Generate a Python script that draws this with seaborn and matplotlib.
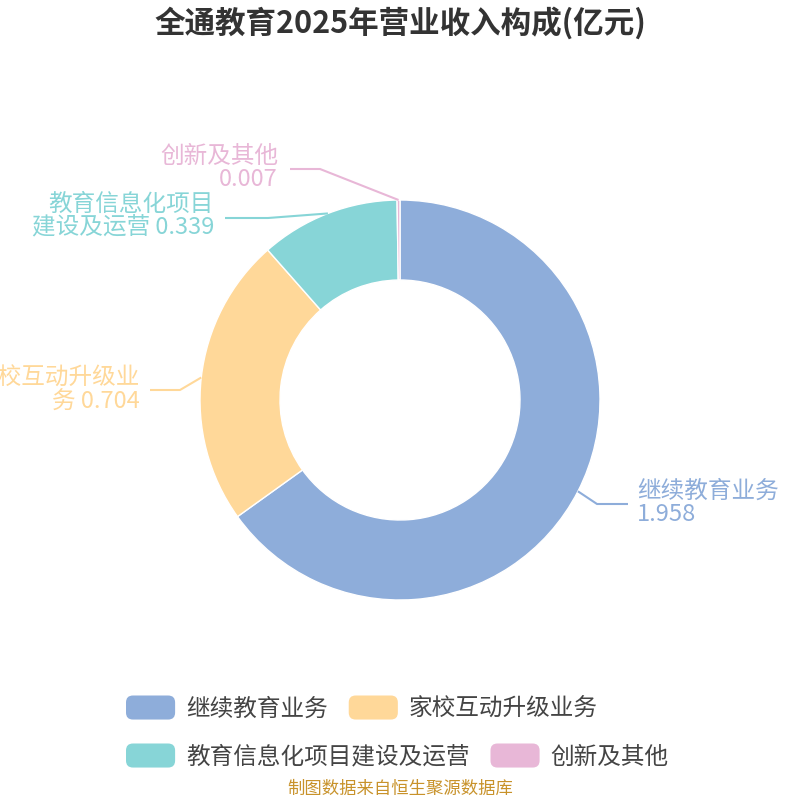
import matplotlib
matplotlib.use("Agg")
import matplotlib.pyplot as plt
import seaborn as sns
import numpy as np
from matplotlib.patches import FancyBboxPatch
from matplotlib.legend_handler import HandlerPatch
import matplotlib.patches as mpatches

sns.set_theme(style="white")
plt.rcParams['font.family'] = ['Noto Sans CJK SC', 'DejaVu Sans']

# ---- data ----
categories = ["继续教育业务", "家校互动升级业务", "教育信息化项目建设及运营", "创新及其他"]
values = [1.958, 0.704, 0.339, 0.007]
value_labels = ["1.958", "0.704", "0.339", "0.007"]
slice_labels = ["继续教育业务\n1.958", "家校互动升级业\n务 0.704", "教育信息化项目\n建设及运营 0.339", "创新及其他\n0.007"]
colors = ["#8EADDA", "#FFD899", "#87D5D7", "#E8B7D7"]
title = "全通教育2025年营业收入构成(亿元)"
source = "制图数据来自恒生聚源数据库"

# ---- layout (pixel coords, y down) ----
elbows = [(597, 504), (180, 390), (268, 218), (320, 169)]
line_ends = [(628, 504), (150, 390), (225, 218), (290, 169)]
text_pos = [(637, 503), (140, 390), (214, 216), (278, 168)]
text_ha = ["left", "right", "right", "right"]

fig = plt.figure(figsize=(8, 8), dpi=100)
ax = fig.add_axes([0, 0, 1, 1])
W = 800
def P(x, y):
    return (x, W - y)

wedges, _ = ax.pie(values, colors=colors, startangle=90, counterclock=False,
                   radius=200, center=(400, 400),
                   wedgeprops=dict(width=80, edgecolor="white", linewidth=1))
ax.set_xlim(0, 800)
ax.set_ylim(0, 800)
ax.set_aspect("equal")
ax.axis("off")

for i, w in enumerate(wedges):
    th = np.deg2rad((w.theta1 + w.theta2) / 2)
    sx, sy = 400 + 200 * np.cos(th), 400 + 200 * np.sin(th)
    ex, ey = P(*elbows[i])
    lx, ly = P(*line_ends[i])
    ax.plot([sx, ex, lx], [sy, ey, ly], color=colors[i], lw=1.5, solid_capstyle="butt")
    tx, ty = P(*text_pos[i])
    ax.text(tx, ty, slice_labels[i], color=colors[i], fontsize=17, ha=text_ha[i],
            va="center", linespacing=1.05)

fig.text(0.5, 1 - 23 / 800, title, ha="center", va="center", fontsize=22,
         fontweight="bold", color="#333333")
fig.text(0.5, 1 - 789 / 800, source, ha="center", va="center", fontsize=12.5,
         color="#C8922A")

class RoundHandler(HandlerPatch):
    def create_artists(self, legend, orig_handle, xdescent, ydescent, width, height, fontsize, trans):
        p = FancyBboxPatch((-xdescent, -ydescent), width, height,
                           boxstyle="round,pad=0,rounding_size=5",
                           facecolor=orig_handle.get_facecolor(), edgecolor="none",
                           transform=trans)
        return [p]

handles = [mpatches.Patch(facecolor=c, label=l) for c, l in zip(colors, categories)]
hm = {h: RoundHandler() for h in handles}
common = dict(ncol=2, frameon=False, fontsize=17, handlelength=2.08, handleheight=1.19,
              handletextpad=0.45, columnspacing=0.9, labelcolor="#444444",
              handler_map=hm, loc="center left", borderpad=0, borderaxespad=0)
leg1 = fig.legend(handles[:2], categories[:2], bbox_to_anchor=(126 / 800, 1 - 708 / 800), **common)
leg2 = fig.legend(handles[2:], categories[2:], bbox_to_anchor=(126 / 800, 1 - 756 / 800), **common)

fig.savefig("out.png", dpi=100, facecolor="white")
